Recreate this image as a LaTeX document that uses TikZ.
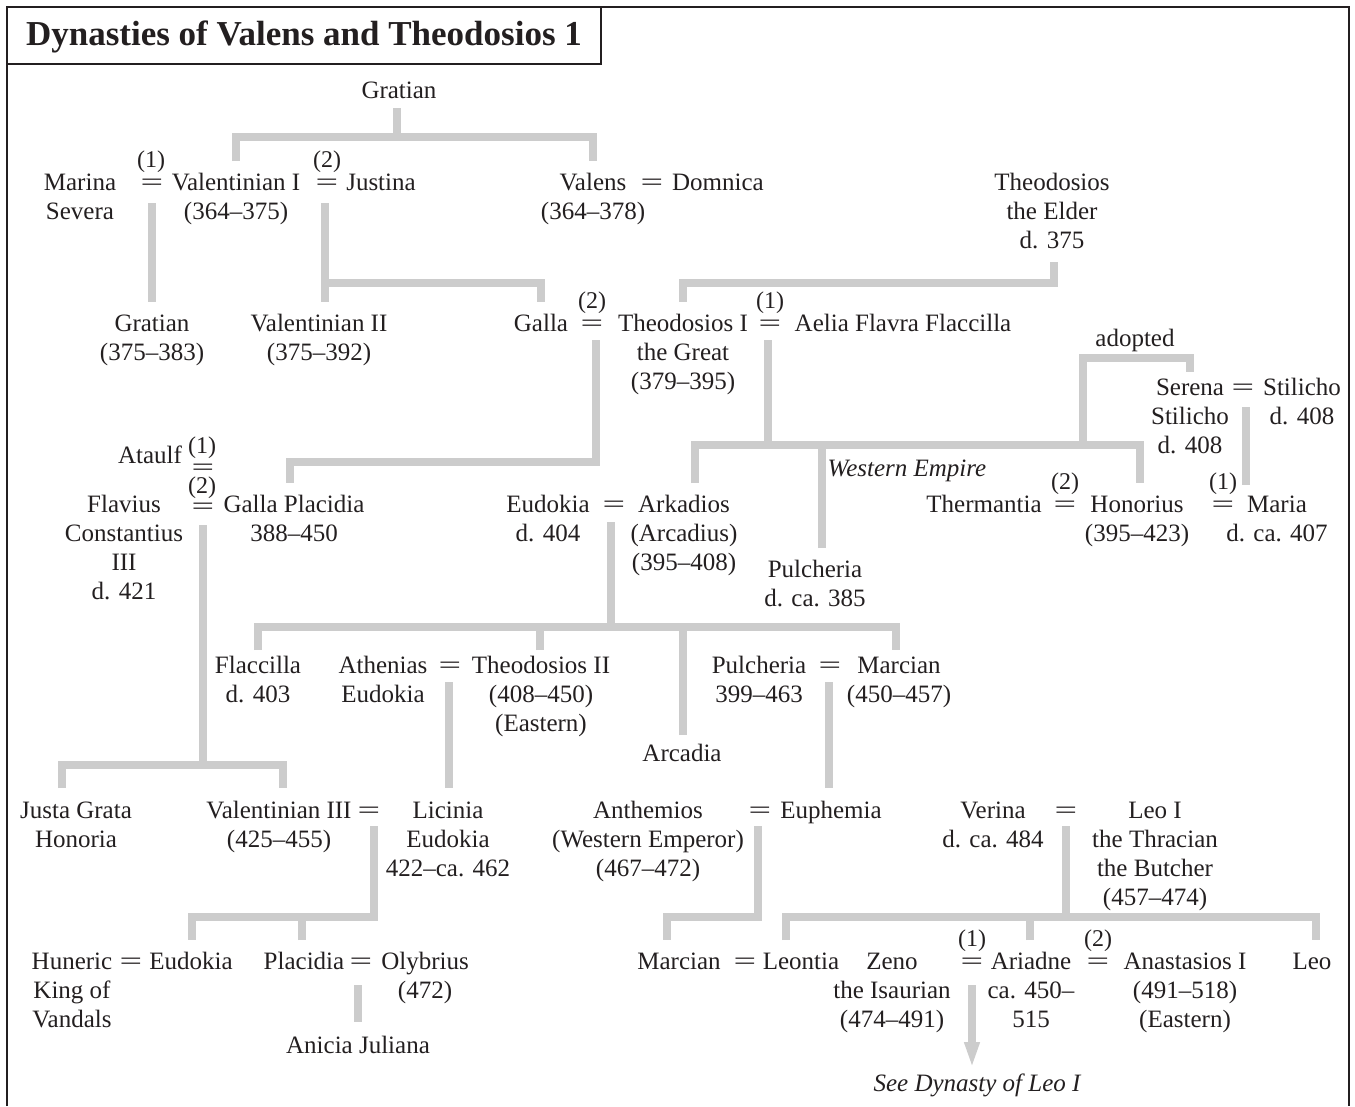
\documentclass[tikz,border=0pt]{standalone}
\usepackage{fontspec}
\setmainfont{Liberation Serif}
\usetikzlibrary{calc,arrows.meta}
\definecolor{ink}{HTML}{231F20}
\definecolor{barc}{HTML}{CCCCCC}
\newcommand\mrg{\scalebox{1.6}[1]{=}}
\newcommand\fl{\rule[-8pt]{0pt}{28pt}}
\begin{document}
\begin{tikzpicture}[x=1pt,y=-1pt,
  pn/.style={font=\fontsize{25}{29}\selectfont, text=ink, align=center, inner sep=0pt,
    anchor=north, yshift=12pt,
    execute at begin node={\rule[-8pt]{0pt}{28pt}},
    execute at end node={\rule[-8pt]{0pt}{8pt}}},
  num/.style={pn, font=\fontsize{24}{29}\selectfont},
  itl/.style={pn, font=\fontsize{25}{29}\selectfont\itshape},
  bar/.style={draw=barc, line width=8pt, line join=miter},
  frame/.style={draw=ink, line width=2.2pt}]
\useasboundingbox (0,0) rectangle (1355,1106);
% frame and title
\draw[frame] (7,1106) -- (7,7) -- (1349,7) -- (1349,1106);
\draw[frame] (7,64) -- (601,64) -- (601,7);
\node[font=\fontsize{35}{40}\selectfont\bfseries, text=ink, inner sep=0pt] (title) at (304,37) {Dynasties of Valens and Theodosios 1};

% row 1-2
\node[pn] (gr0) at (399,90) {Gratian};
\node[pn] (ms) at (80,182) {\fl Marina\\Severa};
\node[pn] (e1) at (152,182) {\mrg};
\node[num] (n1) at (151,159) {(1)};
\node[pn] (val1) at (236,182) {\fl Valentinian I\\(364–375)};
\node[pn] (e2) at (327,182) {\mrg};
\node[num] (n2) at (327,159) {(2)};
\node[pn] (jus) at (381,182) {Justina};
\node[pn] (valens) at (593,182) {\fl Valens\\(364–378)};
\node[pn] (e3) at (652,182) {\mrg};
\node[pn] (dom) at (718,182) {Domnica};
\node[pn] (te) at (1052,182) {\fl Theodosios\\the Elder\\d. 375};

% row 3
\node[pn] (gr1) at (152,323) {\fl Gratian\\(375–383)};
\node[pn] (v2) at (319,323) {\fl Valentinian II\\(375–392)};
\node[pn] (galla) at (541,323) {Galla};
\node[pn] (e4) at (592,323) {\mrg};
\node[num] (n4) at (592,300) {(2)};
\node[pn] (t1) at (683,323) {\fl Theodosios I\\the Great\\(379–395)};
\node[pn] (e5) at (770,323) {\mrg};
\node[num] (n5) at (770,300) {(1)};
\node[pn] (ael) at (903,323) {Aelia Flavra Flaccilla};

\node[pn] (ado) at (1135,338) {adopted};
\node[pn] (ser) at (1190,387) {Serena};
\node[pn] (e6) at (1243,387) {\mrg};
\node[pn] (st1) at (1302,387) {\fl Stilicho\\d. 408};
\node[pn] (st2) at (1190,416) {\fl Stilicho\\d. 408};

% row 4
\node[pn] (ata) at (150,455) {Ataulf};
\node[num] (n7) at (202,445) {(1)};
\node[pn] (e7) at (203,467) {\mrg};
\node[num] (n8) at (202,485) {(2)};
\node[pn] (e8) at (203,506) {\mrg};
\node[pn] (fc) at (124,504) {\fl Flavius\\Constantius\\III\\d. 421};
\node[pn] (gp) at (294,504) {\fl Galla Placidia\\388–450};
\node[pn] (eud1) at (548,504) {\fl Eudokia\\d. 404};
\node[pn] (e9) at (614,504) {\mrg};
\node[pn] (ark) at (684,504) {\fl Arkadios\\(Arcadius)\\(395–408)};
\node[itl] (we) at (907,468) {Western Empire};
\node[pn] (pul1) at (815,569) {\fl Pulcheria\\d. ca. 385};
\node[pn] (the) at (984,504) {Thermantia};
\node[pn] (e19) at (1065,504) {\mrg};
\node[num] (n19) at (1065,481) {(2)};
\node[pn] (hon) at (1137,504) {\fl Honorius\\(395–423)};
\node[pn] (e20) at (1223,504) {\mrg};
\node[num] (n20) at (1223,481) {(1)};
\node[pn] (maria) at (1277,504) {\fl Maria\\d. ca. 407};

% row 5
\node[pn] (fla) at (258,665) {\fl Flaccilla\\d. 403};
\node[pn] (ae) at (383,665) {\fl Athenias\\Eudokia};
\node[pn] (e10) at (450,665) {\mrg};
\node[pn] (t2) at (541,665) {\fl Theodosios II\\(408–450)\\(Eastern)};
\node[pn] (pul2) at (759,665) {\fl Pulcheria\\399–463};
\node[pn] (e11) at (830,665) {\mrg};
\node[pn] (mar1) at (899,665) {\fl Marcian\\(450–457)};
\node[pn] (arc) at (682,753) {Arcadia};

% row 6
\node[pn] (jgh) at (76,810) {\fl Justa Grata\\Honoria};
\node[pn] (v3) at (279,810) {\fl Valentinian III\\(425–455)};
\node[pn] (e12) at (369,810) {\mrg};
\node[pn] (lic) at (448,810) {\fl Licinia\\Eudokia\\422–ca. 462};
\node[pn] (ant) at (648,810) {\fl Anthemios\\(Western Emperor)\\(467–472)};
\node[pn] (e13) at (760,810) {\mrg};
\node[pn] (eup) at (831,810) {Euphemia};
\node[pn] (ver) at (993,810) {\fl Verina\\d. ca. 484};
\node[pn] (e15) at (1066,810) {\mrg};
\node[pn] (leo1) at (1155,810) {\fl Leo I\\the Thracian\\the Butcher\\(457–474)};

% row 7
\node[pn] (hun) at (72,961) {\fl Huneric\\King of\\Vandals};
\node[pn] (e21) at (131,961) {\mrg};
\node[pn] (eud2) at (191,961) {Eudokia};
\node[pn] (pla) at (304,961) {Placidia};
\node[pn] (e16) at (361,961) {\mrg};
\node[pn] (oly) at (425,961) {\fl Olybrius\\(472)};
\node[pn] (aj) at (358,1045) {Anicia Juliana};
\node[pn] (mar2) at (679,961) {Marcian};
\node[pn] (e14) at (745,961) {\mrg};
\node[pn] (leon) at (801,961) {Leontia};
\node[pn] (zen) at (892,961) {\fl Zeno\\the Isaurian\\(474–491)};
\node[pn] (e17) at (972,961) {\mrg};
\node[num] (n17) at (972,938) {(1)};
\node[pn] (ari) at (1031,961) {\fl Ariadne\\ca. 450–\\515};
\node[pn] (e18) at (1098,961) {\mrg};
\node[num] (n18) at (1098,938) {(2)};
\node[pn] (ana) at (1185,961) {\fl Anastasios I\\(491–518)\\(Eastern)};
\node[pn] (leo2) at (1312,961) {Leo};
\node[itl] (see) at (977,1083) {See Dynasty of Leo I};

% connectors
\draw[bar] ($(gr0.south)+(-2,2)$) -- ($(gr0.south)+(-2,31)$);
\draw[bar] ($(val1.north)+(0,-9)$) |- ($(gr0.south -| valens.north)+(0,31)$) -- ($(valens.north)+(0,-9)$);

\draw[bar] ($(e1.south)+(0,5)$) -- ($(e1.south |- gr1.north)+(0,-9)$);
\draw[bar] ($(e2.south)+(-2,5)$) -- ($(e2.south |- v2.north)+(-2,-9)$);
\draw[bar] ($(e2.south |- galla.north)+(-2,-28)$) -| ($(galla.north)+(0,-9)$);
\draw[bar] ($(te.south)+(2,6)$) |- ($(t1.north)+(0,-28)$) -- ($(t1.north)+(0,-9)$);

\draw[bar] ($(e4.south)+(4,1)$) |- ($(gp.north)+(-4,-30)$) -- ($(gp.north)+(-4,-9)$);
\draw[bar] ($(e5.south)+(-2,1)$) -- ($(e5.south |- ark.north)+(-2,-47)$);
\draw[bar] ($(ark.north)+(11,-9)$) |- ($(hon.north)+(3,-47)$) -- ($(hon.north)+(3,-9)$);
\draw[bar] ($(pul1.north)+(7,-9)$) -- ($(pul1.north)+(7,-112)$);
\draw[bar] ($(hon.north)+(-54,-47)$) |- ($(ser.north)+(0,-17)$) -- ($(ser.north)+(0,-3)$);
\draw[bar] ($(e6.south)+(3,4)$) -- ($(e6.south |- maria.north)+(3,-7)$);

\draw[bar] ($(e8.south)+(0,3)$) -- ($(e8.south |- jgh.north)+(0,-33)$);
\draw[bar] ($(jgh.north)+(-14,-10)$) |- ($(v3.north)+(4,-33)$) -- ($(v3.north)+(4,-10)$);

\draw[bar] ($(e9.south)+(-3,2)$) -- ($(e9.south |- fla.north)+(-3,-26)$);
\draw[bar] ($(fla.north)+(0,-3)$) |- ($(mar1.north)+(-3,-26)$) -- ($(mar1.north)+(-3,-3)$);
\draw[bar] ($(t2.north)+(-1,-3)$) -- ($(t2.north)+(-1,-26)$);
\draw[bar] ($(arc.north)+(1,-6)$) -- ($(arc.north |- t2.north)+(1,-26)$);

\draw[bar] ($(e10.south)+(-1,1)$) -- ($(e10.south |- lic.north)+(-1,-10)$);
\draw[bar] ($(e11.south)+(-1,1)$) -- ($(e11.south |- eup.north)+(-1,-10)$);

\draw[bar] ($(e12.south)+(5,0)$) |- ($(eud2.north)+(1,-32)$) -- ($(eud2.north)+(1,-9)$);
\draw[bar] ($(pla.north)+(-2,-9)$) -- ($(pla.north)+(-2,-32)$);
\draw[bar] ($(e13.south)+(-2,0)$) |- ($(mar2.north)+(-12,-32)$) -- ($(mar2.north)+(-12,-9)$);
\draw[bar] (e15.south) -- ($(e15.south |- ari.north)+(0,-32)$);
\draw[bar] ($(leon.north)+(-15,-9)$) |- ($(leo2.north)+(4,-32)$) -- ($(leo2.north)+(4,-9)$);
\draw[bar] ($(ari.north)+(-1,-9)$) -- ($(ari.north)+(-1,-32)$);
\draw[bar] ($(e16.south)+(-3,8)$) -- ($(e16.south |- aj.north)+(-3,-11)$);
\draw[bar, -{Triangle[width=14pt,length=26pt]}] ($(e17.south)+(0,8)$) -- ($(see.north)+(-5,-3)$);
\end{tikzpicture}
\end{document}
